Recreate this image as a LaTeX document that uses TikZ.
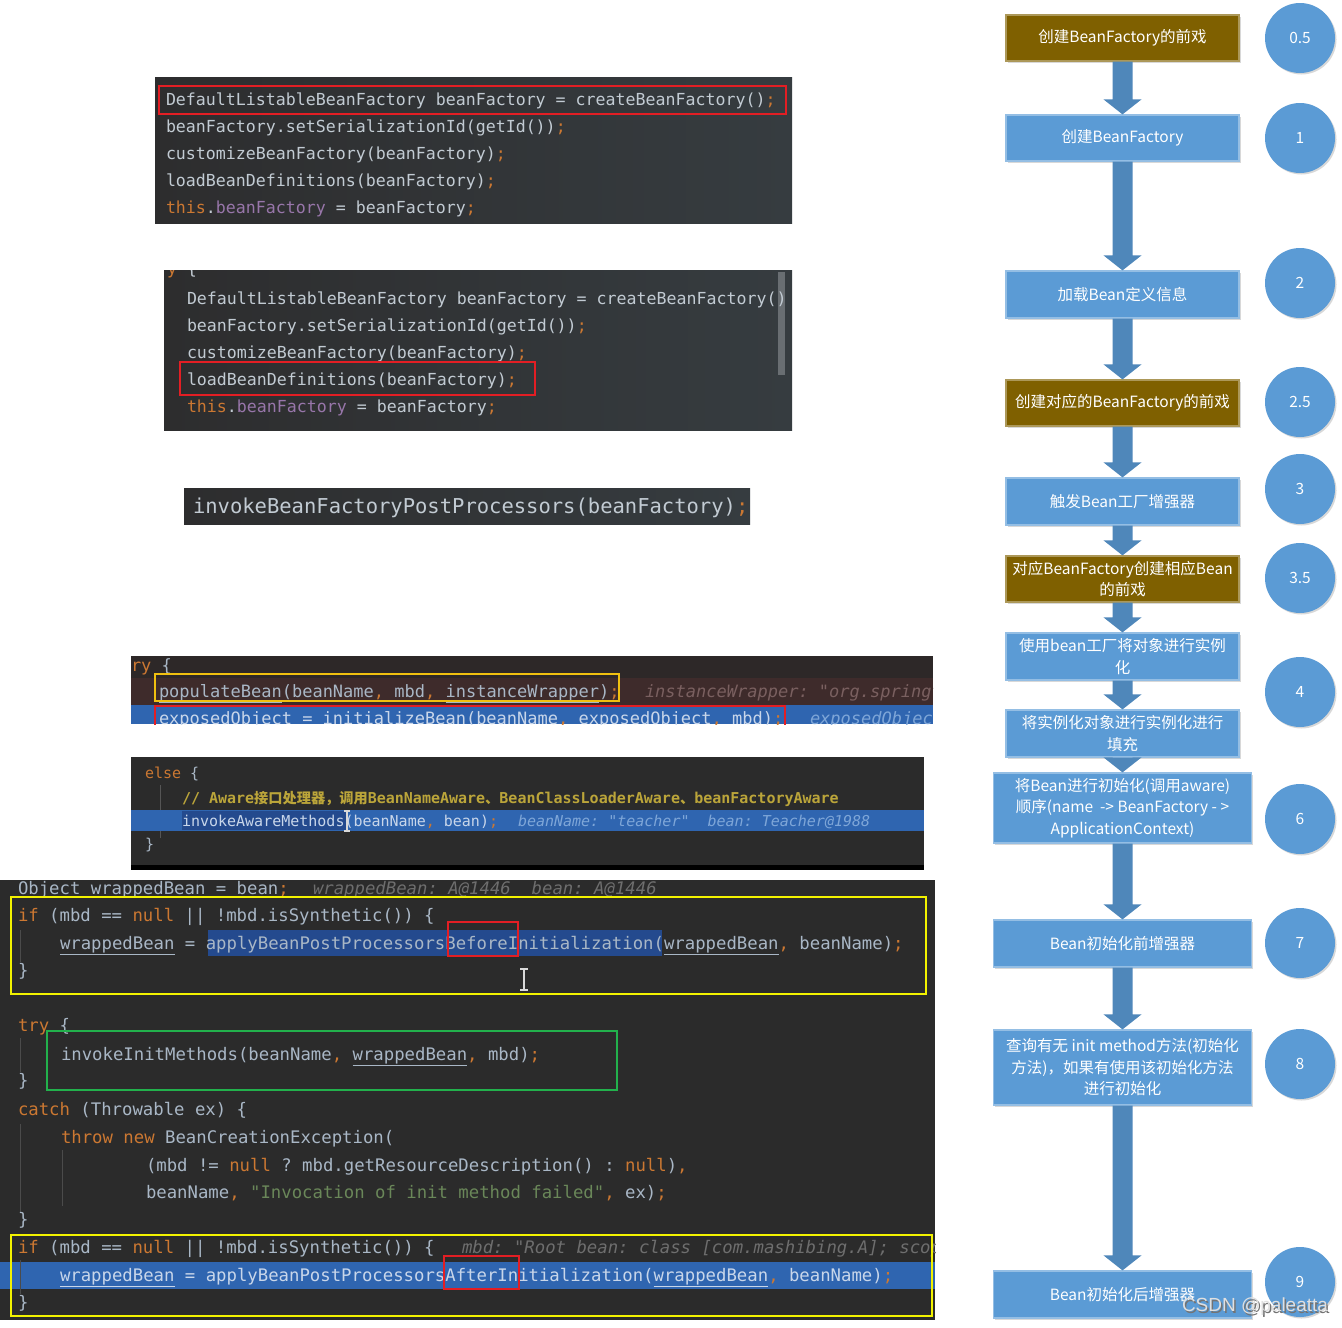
\documentclass[tikz,border=0pt]{standalone}
\usepackage{fontspec}
\setmonofont{DejaVu Sans Mono}
\newfontfamily\cjk{Noto Sans CJK SC}
\newfontfamily\wmfont{Liberation Sans}
\usetikzlibrary{shadows}
\definecolor{cdef}{HTML}{A9B7C6}
\definecolor{cdefA}{HTML}{C2CBD3}
\definecolor{cdefB}{HTML}{C8D6EA}
\definecolor{ckw}{HTML}{CC7832}
\definecolor{cfield}{HTML}{9876AA}
\definecolor{cstr}{HTML}{6A8759}
\definecolor{chint}{HTML}{6E6E6E}
\definecolor{chintr}{HTML}{7A6060}
\definecolor{chintb}{HTML}{7EA6D8}
\definecolor{ccmt}{HTML}{BBA53A}
\definecolor{cbg}{HTML}{2B2B2B}
\definecolor{shL}{HTML}{2D2D2E}
\definecolor{shM}{HTML}{434A4F}
\definecolor{shR}{HTML}{363C40}
\definecolor{rtop}{HTML}{2D2828}
\definecolor{rrow}{HTML}{3E2B2B}
\definecolor{crow}{HTML}{2F65B0}
\definecolor{csel}{HTML}{244A8E}
\definecolor{redbox}{HTML}{E31E24}
\definecolor{ylwbox}{HTML}{F2F200}
\definecolor{goldbox}{HTML}{F0C010}
\definecolor{grnbox}{HTML}{22B14C}
\definecolor{fblue}{HTML}{5B9BD5}
\definecolor{fbrown}{HTML}{7F6000}
\definecolor{farrow}{HTML}{4F87BA}
\newcommand\ckwd[1]{\textcolor{ckw}{#1}}
\newcommand\cfld[1]{\textcolor{cfield}{#1}}
\newcommand\cstrg[1]{\textcolor{cstr}{#1}}
\newcommand\flowarrow[2]{\fill[farrow] ([xshift=-10pt]#1.south) -- ([xshift=-10pt,yshift=15pt]#2.north) -- ([xshift=-19pt,yshift=15pt]#2.north) -- (#2.north) -- ([xshift=19pt,yshift=15pt]#2.north) -- ([xshift=10pt,yshift=15pt]#2.north) -- ([xshift=10pt]#1.south) -- cycle;}
\tikzset{
  code/.style={anchor=mid west, inner sep=0pt, outer sep=0pt, yshift=-4pt},
  codeA/.style={code, text=cdefA, font=\ttfamily\fontsize{16.6}{20}\selectfont},
  codeB/.style={code, text=cdefA, yshift=-1.5pt, font=\ttfamily\fontsize{20.5}{24}\selectfont},
  codeC/.style={code, text=cdef, font=\ttfamily\fontsize{17}{20}\selectfont},
  codeD/.style={code, text=cdef, font=\ttfamily\fontsize{15}{18}\selectfont},
  codeE/.style={code, text=cdef, font=\ttfamily\fontsize{17.3}{20}\selectfont},
  redframe/.style={draw=redbox, line width=2pt},
  yframe/.style={draw=ylwbox, line width=2pt},
  goldframe/.style={draw=goldbox, line width=2pt},
  gframe/.style={draw=grnbox, line width=1.6pt},
  flowbox/.style={rectangle, fill=#1, draw=#1!65!white, line width=1.2pt, text=white, align=center,
    font=\cjk\fontsize{15.5}{21.5}\selectfont, inner sep=2pt,
    drop shadow={shadow xshift=1.5pt, shadow yshift=-1.5pt, opacity=0.3}},
  flowcirc/.style={circle, fill=fblue, minimum size=70pt, inner sep=0pt, text=white,
    font=\cjk\fontsize{15.5}{18}\selectfont,
    drop shadow={shadow xshift=1.5pt, shadow yshift=-1.5pt, opacity=0.3}},
  codeshade/.style={left color=shL, middle color=shM, right color=shR},
}
\begin{document}
\begin{tikzpicture}[x=1pt,y=-1pt]
\useasboundingbox (0,0) rectangle (1342,1328);
\fill[white] (0,0) rectangle (1342,1328);

% ---------- block 1
\shade[codeshade] (155,77) rectangle (792,223);
\node[codeA] (a1) at (166,99) {DefaultListableBeanFactory beanFactory = createBeanFactory()\ckwd{;}};
\node[codeA] (a2) at (166,126) {beanFactory.setSerializationId(getId())\ckwd{;}};
\node[codeA] (a3) at (166,153) {customizeBeanFactory(beanFactory)\ckwd{;}};
\node[codeA] (a4) at (166,180) {loadBeanDefinitions(beanFactory)\ckwd{;}};
\node[codeA] (a5) at (166,207) {\ckwd{this}.\cfld{beanFactory} = beanFactory\ckwd{;}};
\draw[redframe] (159,86) rectangle (786,114);

% ---------- block 2
\begin{scope}
\clip (164,270) rectangle (792,430);
\shade[codeshade] (164,270) rectangle (792,430);
\fill[shM!80!white] (778,272) rectangle (785,375);
\node[codeA] (b0) at (167,268) {\ckwd{y} \{};
\node[codeA] (b1) at (187,298) {DefaultListableBeanFactory beanFactory = createBeanFactory()};
\node[codeA] (b2) at (187,325) {beanFactory.setSerializationId(getId())\ckwd{;}};
\node[codeA] (b3) at (187,352) {customizeBeanFactory(beanFactory)\ckwd{;}};
\node[codeA] (b4) at (187,379) {loadBeanDefinitions(beanFactory)\ckwd{;}};
\node[codeA] (b5) at (187,406) {\ckwd{this}.\cfld{beanFactory} = beanFactory\ckwd{;}};
\end{scope}
\draw[redframe] (180,362) rectangle (535,395);

% ---------- block 3
\shade[codeshade] (184,488) rectangle (750,524);
\node[codeB] (c1) at (193,506) {invokeBeanFactoryPostProcessors(beanFactory)\ckwd{;}};

% ---------- block 4
\begin{scope}
\clip (131,656) rectangle (933,724);
\fill[rtop] (131,656) rectangle (933,705);
\fill[rrow] (131,678) rectangle (933,705);
\fill[crow] (131,705) rectangle (933,724);
\node[codeC] (d0) at (131,665) {\ckwd{ry} \{};
\node[codeC] (d1) at (159,691) {\underline{populateBean}(beanName\ckwd{,} mbd\ckwd{,} \underline{instanceWrapper})\ckwd{;}};
\node[codeC, text=chintr] (d2) at (645,691) {\itshape instanceWrapper: "org.springframework"};
\node[codeC, text=cdefB] (d3) at (159,718) {exposedObject = initializeBean(beanName\ckwd{,} exposedObject\ckwd{,} mbd)\ckwd{;}};
\node[codeC, text=chintb] (d4) at (810,718) {\itshape exposedObject: "A"};
\draw[goldframe] (155,674) rectangle (619,701);
\draw[redframe] (155,706) rectangle (785,732);
\end{scope}

% ---------- block 5
\fill[cbg] (131,757) rectangle (924,866);
\fill[black] (131,865) rectangle (924,870);
\draw[cbg!80!white, line width=1pt] (160,785) -- (160,838);
\fill[crow] (131,810) rectangle (924,831);
\fill[csel] (182,811) rectangle (347,830);
\node[codeD] (e1) at (145,772) {\ckwd{else} \{};
\node[codeD, text=ccmt] (e2) at (182,797) {\bfseries // Aware{\cjk\fontsize{14.2}{16}\selectfont 接口处理器，调用}BeanNameAware{\cjk\fontsize{14.2}{16}\selectfont 、}BeanClassLoaderAware{\cjk\fontsize{14.2}{16}\selectfont 、}beanFactoryAware};
\node[codeD, text=cdefB] (e3) at (182,820) {invokeAwareMethods(beanName\ckwd{,} bean)\ckwd{;}};
\node[codeD, text=chintb] (e4) at (518,820) {\itshape beanName: "teacher"\ \ bean: Teacher@1988};
\node[codeD] (e5) at (145,843) {\}};
\draw[white!85!black, line width=1.5pt] (347,811) -- (347,831) (344,811) -- (350,811) (344,831) -- (350,831);

% ---------- block 6
\begin{scope}
\clip (0,880) rectangle (935,1320);
\fill[cbg] (0,880) rectangle (935,1320);
\fill[csel] (208,930) rectangle (662,956);
\fill[crow] (0,1262) rectangle (935,1289);
\draw[cbg!85!white, line width=1pt] (20,930) -- (20,962) (20,1038) -- (20,1072) (20,1124) -- (20,1212) (62,1150) -- (62,1206) (20,1260) -- (20,1294);
\node[codeE] (f0) at (18,888) {Object wrappedBean = bean\ckwd{;}};
\node[codeE, text=chint] (f0h) at (313,888) {\itshape wrappedBean: A@1446\ \ bean: A@1446};
\node[codeE] (f1) at (18,915) {\ckwd{if} (mbd == \ckwd{null} || !mbd.isSynthetic()) \{};
\node[codeE] (f2) at (60,943) {\underline{wrappedBean} = applyBeanPostProcessorsBeforeInitialization(\underline{wrappedBean}\ckwd{,} beanName)\ckwd{;}};
\node[codeE] (f3) at (18,970) {\}};
\node[codeE] (f4) at (18,1025) {\ckwd{try} \{};
\node[codeE] (f5) at (61,1054) {invokeInitMethods(beanName\ckwd{,} \underline{wrappedBean}\ckwd{,} mbd)\ckwd{;}};
\node[codeE] (f6) at (18,1080) {\}};
\node[codeE] (f7) at (18,1109) {\ckwd{catch} (Throwable ex) \{};
\node[codeE] (f8) at (61,1137) {\ckwd{throw new} BeanCreationException(};
\node[codeE] (f9) at (146,1165) {(mbd != \ckwd{null} ? mbd.getResourceDescription() : \ckwd{null})\ckwd{,}};
\node[codeE] (f10) at (146,1192) {beanName\ckwd{,} \cstrg{"Invocation of init method failed"}\ckwd{,} ex)\ckwd{;}};
\node[codeE] (f11) at (18,1219) {\}};
\node[codeE] (f12) at (18,1247) {\ckwd{if} (mbd == \ckwd{null} || !mbd.isSynthetic()) \{};
\node[codeE, text=chint] (f12h) at (462,1247) {\itshape mbd: "Root bean: class [com.mashibing.A]; scope=singleton"};
\node[codeE, text=cdefB] (f13) at (60,1275) {\underline{wrappedBean} = applyBeanPostProcessorsAfterInitialization(\underline{wrappedBean}\ckwd{,} beanName)\ckwd{;}};
\node[codeE] (f14) at (18,1302) {\}};
\draw[white!85!black, line width=1.5pt] (524,969) -- (524,990) (520,969) -- (528,969) (520,990) -- (528,990);
\draw[yframe] (11,897) rectangle (926,994);
\draw[redframe] (448,922) rectangle (518,956);
\draw[gframe] (47,1031) rectangle (617,1090);
\draw[yframe] (11,1235) rectangle (932,1316);
\draw[redframe] (444,1256) rectangle (519,1289);
\end{scope}

% ---------- flowchart
\node[flowbox=fbrown, minimum width=233pt, minimum height=46pt] (s0) at (1122.5,38) {创建BeanFactory的前戏};
\node[flowbox=fblue, minimum width=233pt, minimum height=46pt] (s1) at (1122.5,138) {创建BeanFactory};
\node[flowbox=fblue, minimum width=233pt, minimum height=47pt] (s2) at (1122.5,294.5) {加载Bean定义信息};
\node[flowbox=fbrown, minimum width=233pt, minimum height=46pt] (s25) at (1122.5,403) {创建对应的BeanFactory的前戏};
\node[flowbox=fblue, minimum width=233pt, minimum height=47pt] (s3) at (1122.5,501.5) {触发Bean工厂增强器};
\node[flowbox=fbrown, minimum width=233pt, minimum height=46pt] (s35) at (1122.5,579) {对应BeanFactory创建相应Bean\\的前戏};
\node[flowbox=fblue, minimum width=233pt, minimum height=47pt] (s4) at (1122.5,656.5) {使用bean工厂将对象进行实例\\化};
\node[flowbox=fblue, minimum width=233pt, minimum height=47pt] (s5) at (1122.5,733.5) {将实例化对象进行实例化进行\\填充};
\node[flowbox=fblue, minimum width=258pt, minimum height=70pt] (s6) at (1122.5,808) {将Bean进行初始化(调用aware)\\顺序(name~~-> BeanFactory - >\\ApplicationContext)};
\node[flowbox=fblue, minimum width=258pt, minimum height=47pt] (s7) at (1122.5,943.5) {Bean初始化前增强器};
\node[flowbox=fblue, minimum width=258pt, minimum height=75pt] (s8) at (1122.5,1067.5) {查询有无 init method方法(初始化\\方法)，如果有使用该初始化方法\\进行初始化};
\node[flowbox=fblue, minimum width=258pt, minimum height=47pt] (s9) at (1122.5,1294.5) {Bean初始化后增强器};

\flowarrow{s0}{s1}
\flowarrow{s1}{s2}
\flowarrow{s2}{s25}
\flowarrow{s25}{s3}
\flowarrow{s3}{s35}
\flowarrow{s35}{s4}
\flowarrow{s4}{s5}
\flowarrow{s5}{s6}
\flowarrow{s6}{s7}
\flowarrow{s7}{s8}
\flowarrow{s8}{s9}

\node[flowcirc] (n05) at (1300,38) {0.5};
\node[flowcirc] (n1) at (1300,138) {1};
\node[flowcirc] (n2) at (1300,283) {2};
\node[flowcirc] (n25) at (1300,402) {2.5};
\node[flowcirc] (n3) at (1300,489) {3};
\node[flowcirc] (n35) at (1300,578) {3.5};
\node[flowcirc] (n4) at (1300,692) {4};
\node[flowcirc] (n6) at (1300,819) {6};
\node[flowcirc] (n7) at (1300,943) {7};
\node[flowcirc] (n8) at (1300,1064) {8};
\node[flowcirc] (n9) at (1300,1282) {9};

% watermark
\node[text=black!55, font=\wmfont\fontsize{19}{22}\selectfont, inner sep=0pt] (wms) at (1256.5,1308.5) {CSDN @paleatta};
\node[text=white!88!black, font=\wmfont\fontsize{19}{22}\selectfont, inner sep=0pt] (wm) at (1255,1307) {CSDN @paleatta};
\end{tikzpicture}
\end{document}
